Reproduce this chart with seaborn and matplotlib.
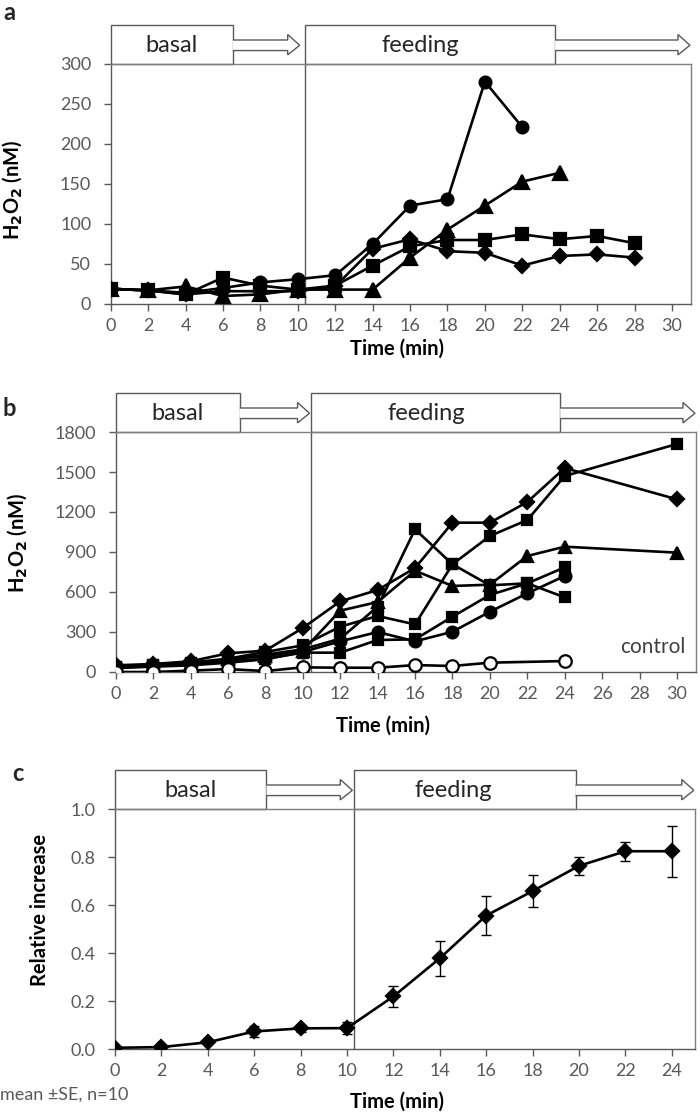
import matplotlib
matplotlib.use("Agg")
import matplotlib.pyplot as plt
import matplotlib.transforms as mtransforms
from matplotlib.patches import Polygon, Rectangle
import pandas as pd
import seaborn as sns

# ---- panel a data (H2O2, nM) ----
a_t_circle = [0, 2, 4, 6, 8, 10, 12, 14, 16, 18, 20, 22]
a_circle = [19, 17, 14, 20, 27, 31, 36, 75, 123, 131, 278, 221]
a_t_triangle = [0, 2, 4, 6, 8, 10, 12, 14, 16, 18, 20, 22, 24]
a_triangle = [19, 17, 22, 10, 12, 18, 18, 18, 58, 93, 123, 153, 164]
a_t_long = [0, 2, 4, 6, 8, 10, 12, 14, 16, 18, 20, 22, 24, 26, 28]
a_square = [19, 17, 12, 33, 23, 18, 23, 48, 72, 80, 80, 87, 81, 85, 76]
a_diamond = [19, 17, 12, 16, 16, 16, 22, 69, 81, 66, 64, 48, 60, 62, 58]

# ---- panel b data (H2O2, nM) ----
b_t_long = [0, 2, 4, 6, 8, 10, 12, 14, 16, 18, 20, 22, 24, 30]
b_diamond = [50, 60, 80, 140, 160, 330, 530, 615, 780, 1120, 1120, 1275, 1530, 1295]
b_square1 = [40, 55, 70, 100, 150, 200, 340, 420, 357, 808, 1020, 1140, 1470, 1710]
b_triangle = [45, 50, 65, 95, 120, 160, 460, 525, 760, 645, 655, 870, 940, 895]
b_t_short = [0, 2, 4, 6, 8, 10, 12, 14, 16, 18, 20, 22, 24]
b_square2 = [35, 50, 60, 90, 130, 170, 250, 490, 1070, 808, 650, 665, 560]
b_square3 = [30, 45, 55, 80, 100, 145, 145, 240, 245, 415, 578, 665, 785]
b_circle = [30, 40, 50, 70, 95, 150, 230, 300, 230, 302, 452, 590, 720]
b_t_control = [0, 2, 4, 6, 8, 10, 12, 14, 16, 18, 20, 24]
b_control = [0, 0, 10, 22, 7, 35, 32, 32, 52, 45, 70, 82]

# ---- panel c data (relative increase, mean +/- SE) ----
c_t = [0, 2, 4, 6, 8, 10, 12, 14, 16, 18, 20, 22, 24]
c_mean = [0.005, 0.008, 0.028, 0.073, 0.086, 0.087, 0.219, 0.378, 0.556, 0.658, 0.763, 0.824, 0.824]
c_se = [0.005, 0.006, 0.006, 0.024, 0.015, 0.024, 0.043, 0.072, 0.082, 0.065, 0.037, 0.040, 0.107]

sns.set_style("white")
plt.rcParams["font.family"] = ["Lato", "DejaVu Sans"]
GREY = "#595959"
FRAME = "#7f7f7f"

fig = plt.figure(figsize=(7.0, 11.17), dpi=100)


def series(ax, t, v, marker, ms, face="black", lw=1.9):
    sns.lineplot(x=t, y=v, ax=ax, color="black", marker=marker, markersize=ms,
                 markerfacecolor=face, markeredgecolor="black", markeredgewidth=1.6,
                 linewidth=lw, estimator=None, sort=False, zorder=3)


def phases(ax, basal_end, arrow1_tip, feed_start, feed_end, arrow2_tip, head):
    tr = mtransforms.blended_transform_factory(ax.transData, ax.transAxes)
    top = 1.162
    s_lo, s_hi, h_lo, h_hi, mid = 1.056, 1.100, 1.038, 1.123, 1.078
    for x0, x1 in [(0, basal_end), (feed_start, feed_end)]:
        ax.add_patch(Rectangle((x0, 1.0), x1 - x0, top - 1.0, transform=tr,
                               facecolor="white", edgecolor=GREY, lw=1.0, clip_on=False))
    for x0, xt in [(basal_end, arrow1_tip), (feed_end, arrow2_tip)]:
        xh = xt - head
        pts = [(x0, s_lo), (xh, s_lo), (xh, h_lo), (xt, mid), (xh, h_hi), (xh, s_hi), (x0, s_hi)]
        ax.add_patch(Polygon(pts, closed=False, transform=tr, facecolor="white",
                             edgecolor=GREY, lw=1.0, clip_on=False))
    ax.plot([feed_start, feed_start], [0, 1], transform=tr, color=GREY, lw=1.0, zorder=1)
    ax.text(basal_end / 2, 1.078, "basal", transform=tr, ha="center", va="center",
            fontsize=17, color="#262626")
    ax.text((feed_start + feed_end) / 2 - 0.5, 1.078, "feeding", transform=tr, ha="center",
            va="center", fontsize=17, color="#262626")


def style(ax, xmax, xticks, yticks, ylim, ylabel, ylab_xy, xlab_xy, yfmt=None):
    ax.set_xlim(0, xmax)
    ax.set_ylim(*ylim)
    ax.set_xticks(xticks)
    ax.set_yticks(yticks)
    if yfmt:
        ax.set_yticklabels([yfmt % v for v in yticks])
    for s in ax.spines.values():
        s.set_visible(True)
        s.set_color(FRAME)
        s.set_linewidth(1.0)
    ax.spines["left"].set_color(GREY)
    ax.spines["bottom"].set_color(GREY)
    ax.tick_params(axis="both", direction="out", length=5, width=1.0, color=GREY,
                   labelcolor=GREY, labelsize=13)
    ax.tick_params(axis="y", pad=9)
    ax.tick_params(axis="x", pad=5)
    ax.tick_params(top=False, right=False, bottom=True, left=True)
    ax.set_ylabel(ylabel, fontsize=14.5, fontweight="bold", color="black")
    ax.set_xlabel("Time (min)", fontsize=14.5, fontweight="bold", color="black")
    ax.yaxis.set_label_coords(*ylab_xy)
    ax.xaxis.set_label_coords(*xlab_xy)
    ax.grid(False)


# ---- panel a ----
ax_a = fig.add_axes([110.7 / 700, 1 - 304 / 1117, 580 / 700, 240 / 1117])
series(ax_a, a_t_long, a_diamond, "D", 7.5)
series(ax_a, a_t_long, a_square, "s", 8)
series(ax_a, a_t_triangle, a_triangle, "^", 9.5)
series(ax_a, a_t_circle, a_circle, "o", 8.5)
style(ax_a, 31, range(0, 31, 2), range(0, 301, 50), (0, 300),
      r"H$_\mathbf{2}$O$_\mathbf{2}$ (nM)", (-0.15, 0.475), (0.494, -0.145))
phases(ax_a, 6.53, 10.1, 10.37, 23.75, 30.96, 0.64)

# ---- panel b ----
ax_b = fig.add_axes([115.7 / 700, 1 - 672 / 1117, 580 / 700, 240 / 1117])
series(ax_b, b_t_short, b_circle, "o", 8.5)
series(ax_b, b_t_short, b_square3, "s", 7.5)
series(ax_b, b_t_short, b_square2, "s", 7.5)
series(ax_b, b_t_long, b_triangle, "^", 9)
series(ax_b, b_t_long, b_square1, "s", 7.5)
series(ax_b, b_t_long, b_diamond, "D", 7)
series(ax_b, b_t_control, b_control, "o", 9, face="white")
ax_b.text(28.7, 185, "control", ha="center", va="center", fontsize=15, color="#404040")
style(ax_b, 31, range(0, 31, 2), range(0, 1801, 300), (0, 1800),
      r"H$_\mathbf{2}$O$_\mathbf{2}$ (nM)", (-0.15, 0.54), (0.46, -0.18))
phases(ax_b, 6.63, 10.36, 10.46, 23.76, 30.96, 0.64)

# ---- panel c ----
ax_c = fig.add_axes([115 / 700, 1 - 1049 / 1117, 580 / 700, 240 / 1117])
ax_c.errorbar(c_t, c_mean, yerr=c_se, fmt="none", ecolor="black", elinewidth=1.0,
              capsize=3.5, capthick=1.0, zorder=2)
series(ax_c, c_t, c_mean, "D", 7.5)
yt = [0.0, 0.2, 0.4, 0.6, 0.8, 1.0]
style(ax_c, 25, range(0, 25, 2), yt, (0, 1.0), "Relative increase",
      (-0.112, 0.58), (0.486, -0.178), yfmt="%.1f")
phases(ax_c, 6.53, 10.23, 10.31, 19.85, 24.95, 0.52)

# panel letters and note
fig.text(3 / 700, 1 - 1 / 1117, "a", fontsize=17, fontweight="bold", va="top")
fig.text(3 / 700, 1 - 397 / 1117, "b", fontsize=17, fontweight="bold", va="top")
fig.text(12 / 700, 1 - 762 / 1117, "c", fontsize=17, fontweight="bold", va="top")
fig.text(0 / 700, 1 - 1095 / 1117, "mean \u00b1SE, n=10", fontsize=13, color=GREY,
         va="center", ha="left")

fig.savefig("out.png", dpi=100)
